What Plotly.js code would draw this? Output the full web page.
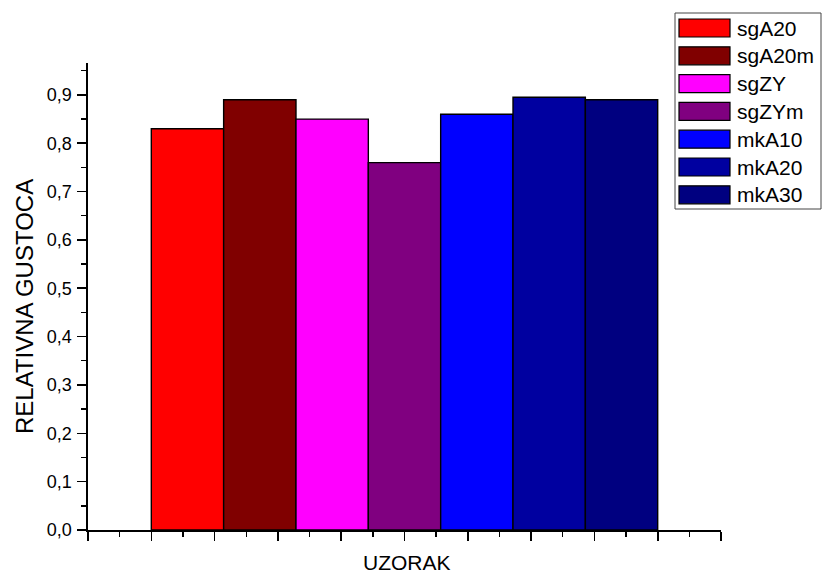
<!DOCTYPE html>
<html>
<head>
<meta charset="utf-8">
<script src="https://cdn.plot.ly/plotly-3.0.1.min.js"></script>
<style>html,body{margin:0;padding:0;background:#fff;}#chart{width:822px;height:574px;}</style>
</head>
<body>
<div id="chart"></div>
<script>
// ---- data ----
const seriesNames = ["sgA20", "sgA20m", "sgZY", "sgZYm", "mkA10", "mkA20", "mkA30"];
const seriesValues = [0.83, 0.89, 0.85, 0.76, 0.86, 0.895, 0.89];
const seriesColors = ["#FF0000", "#800000", "#FF00FF", "#800080", "#0000FF", "#0000A0", "#000080"];
const yTickVals = [0, 0.1, 0.2, 0.3, 0.4, 0.5, 0.6, 0.7, 0.8, 0.9];
const yTickText = ["0,0", "0,1", "0,2", "0,3", "0,4", "0,5", "0,6", "0,7", "0,8", "0,9"];
const xTitle = "UZORAK";
const yTitle = "RELATIVNA GUSTOCA";

// ---- layout geometry ----
const W = 822, H = 574;
const mL = 88, mR = 101, mT = 63, mB = 44;
const plotW = W - mL - mR, plotH = H - mT - mB;
const xRange = [0, 10];
const groupStart = 1, groupSpan = 8;
const barW = groupSpan / seriesNames.length;
const FONT = "Liberation Sans, Arial, sans-serif";

const traces = seriesNames.map((name, i) => ({
  type: "bar",
  name: name,
  x: [groupStart + barW * (i + 0.5)],
  y: [seriesValues[i]],
  width: [barW],
  marker: { color: seriesColors[i], line: { color: "#000", width: 1.4 } },
  showlegend: false,
  hoverinfo: "name+y"
}));

// custom legend (Origin-style wide swatches) in paper coordinates
const px2x = p => (p - mL) / plotW;
const py2y = p => (H - mB - p) / plotH;
const shapes = [];
const annotations = [];
const legL = 675, legR = 821, legT = 13, legB = 209;
shapes.push({ type: "rect", xref: "paper", yref: "paper",
  x0: px2x(legL), x1: px2x(legR), y0: py2y(legB), y1: py2y(legT),
  line: { color: "#444", width: 1 }, fillcolor: "rgba(0,0,0,0)" });
seriesNames.forEach((name, i) => {
  const cy = 28 + i * 27.8;
  shapes.push({ type: "rect", xref: "paper", yref: "paper",
    x0: px2x(679), x1: px2x(730), y0: py2y(cy + 9), y1: py2y(cy - 9),
    fillcolor: seriesColors[i], line: { color: "#000", width: 1.2 } });
  annotations.push({ xref: "paper", yref: "paper", x: px2x(735), y: py2y(cy),
    xanchor: "left", yanchor: "middle", text: name, showarrow: false,
    font: { family: FONT, size: 21, color: "#000" } });
});
// axis titles
annotations.push({ xref: "paper", yref: "paper", x: px2x(407), y: py2y(562),
  xanchor: "center", yanchor: "middle", text: xTitle, showarrow: false,
  font: { family: FONT, size: 21, color: "#000" } });
annotations.push({ xref: "paper", yref: "paper", x: px2x(24), y: py2y(307),
  xanchor: "center", yanchor: "middle", text: yTitle, showarrow: false, textangle: -90,
  font: { family: FONT, size: 24, color: "#000" } });

const layout = {
  width: W, height: H,
  margin: { l: mL, r: mR, t: mT, b: mB, pad: 0 },
  paper_bgcolor: "#fff", plot_bgcolor: "#fff",
  barmode: "overlay",
  showlegend: false,
  font: { family: FONT, color: "#000" },
  xaxis: {
    range: xRange, showgrid: false, zeroline: false,
    showline: true, linecolor: "#000", linewidth: 1.6,
    ticks: "outside", tickmode: "linear", tick0: 0, dtick: 1,
    ticklen: 9, tickwidth: 1.6, tickcolor: "#000",
    showticklabels: false,
    minor: { ticks: "outside", dtick: 0.5, tick0: 0, ticklen: 5, tickwidth: 1.4, tickcolor: "#000", showgrid: false },
    fixedrange: true
  },
  yaxis: {
    range: [0, 0.966], showgrid: false, zeroline: false,
    showline: true, linecolor: "#000", linewidth: 1.6,
    ticks: "outside", tickmode: "array", tickvals: yTickVals, ticktext: yTickText,
    ticklen: 9, tickwidth: 1.6, tickcolor: "#000",
    tickfont: { family: FONT, size: 18, color: "#000" },
    ticklabelstandoff: 2,
    minor: { ticks: "outside", dtick: 0.05, tick0: 0, ticklen: 5, tickwidth: 1.4, tickcolor: "#000", showgrid: false },
    fixedrange: true
  },
  shapes: shapes,
  annotations: annotations
};

Plotly.newPlot("chart", traces, layout, { displayModeBar: false, staticPlot: true });
</script>
</body>
</html>
